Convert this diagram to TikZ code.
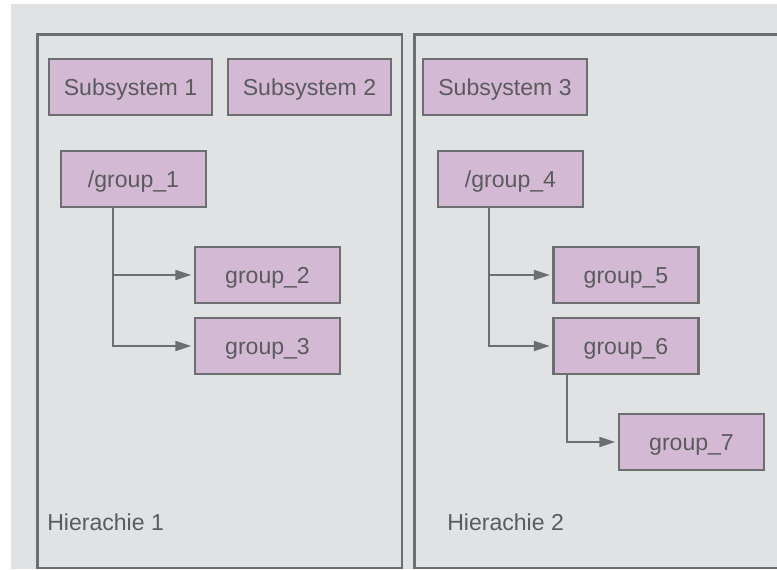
\documentclass[tikz,border=0pt]{standalone}
\usepackage{fontspec}
\setmainfont{Liberation Sans}
\usetikzlibrary{arrows.meta}
\definecolor{bgcol}{HTML}{E1E2E4}
\definecolor{boxfill}{HTML}{D4B9D4}
\definecolor{edgecol}{HTML}{6D6E71}
\definecolor{txtcol}{HTML}{5A5B5D}
\tikzset{
  panel/.style={draw=edgecol, line width=2pt},
  grpbox/.style={draw=edgecol, fill=boxfill, line width=1.6pt, rectangle,
    minimum height=42pt, text=txtcol, font=\fontsize{17.3}{20}\selectfont,
    text height=12.4pt, text depth=0pt, inner sep=0pt},
  arr/.style={draw=edgecol, line width=1.6pt, -{Triangle[length=12pt,width=7.5pt]}, shorten >=2pt},
  lbl/.style={text=txtcol, font=\fontsize{17.3}{20}\selectfont, anchor=base west, inner sep=0pt}
}
\begin{document}
\begin{tikzpicture}[x=0.75pt,y=-0.75pt]
\useasboundingbox (0,0) rectangle (777,569);
\fill[bgcol] (11,4) rectangle (777,569);
\begin{scope}
\clip (0,0) rectangle (777,569);
\draw[panel] (37.5,34.5) rectangle (402,568);
\draw[panel] (414.5,34.5) rectangle (795,568);
\end{scope}
% nodes
\node[grpbox, minimum width=122.25pt] (s1) at (130.5,87) {Subsystem 1};
\node[grpbox, minimum width=122.25pt] (s2) at (309.5,87) {Subsystem 2};
\node[grpbox, minimum width=123pt] (s3) at (505,87) {Subsystem 3};
\node[grpbox, minimum width=108.75pt] (g1) at (133.5,179) {/group\_1};
\node[grpbox, minimum width=108.75pt] (g2) at (267.5,275) {group\_2};
\node[grpbox, minimum width=108.75pt] (g3) at (267.5,346) {group\_3};
\node[grpbox, minimum width=108.75pt] (g4) at (510.5,179) {/group\_4};
\node[grpbox, minimum width=108.75pt] (g5) at (626,275) {group\_5};
\node[grpbox, minimum width=108.75pt] (g6) at (626,346) {group\_6};
\node[grpbox, minimum width=108.75pt] (g7) at (691.5,442) {group\_7};
\node[lbl] (h1) at (47,530) {Hierachie 1};
\node[lbl] (h2) at (447,530) {Hierachie 2};
% connectors
\coordinate (t1) at (113,208);
\coordinate (t4) at (489,208);
\coordinate (t6) at (567,375);
\draw[arr] (t1) |- (g2.west);
\draw[arr] (t1) |- (g3.west);
\draw[arr] (t4) |- (g5.west);
\draw[arr] (t4) |- (g6.west);
\draw[arr] (t6) |- (g7.west);
\end{tikzpicture}
\end{document}
